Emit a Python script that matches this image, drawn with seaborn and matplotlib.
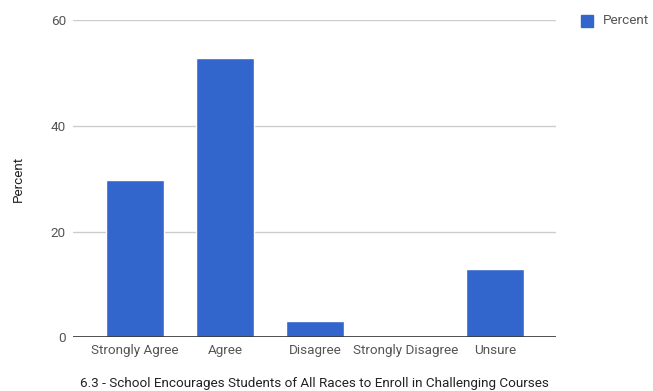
import matplotlib
matplotlib.use("Agg")
import matplotlib.pyplot as plt
import seaborn as sns
import pandas as pd
from matplotlib.patches import Rectangle

categories = ["Strongly Agree", "Agree", "Disagree", "Strongly Disagree", "Unsure"]
percent = [29.8, 52.9, 3.0, 0.0, 12.9]
y_ticks = [0, 20, 40, 60]
series_name = "Percent"
x_title = "6.3 - School Encourages Students of All Races to Enroll in Challenging Courses"

df = pd.DataFrame({"Response": categories, series_name: percent})

sns.set_theme(style="white")
plt.rcParams["font.family"] = ["Roboto", "DejaVu Sans"]

fig = plt.figure(figsize=(6.53, 3.91), dpi=100)
ax = fig.add_axes([0.1118, 0.1373, 0.7389, 0.8115])

bar_color = "#3366CC"
sns.barplot(data=df, x="Response", y=series_name, color=bar_color,
            width=0.64, saturation=1, ax=ax, zorder=3)

ax.set_ylim(0, 60)
ax.set_xlim(-0.69, 4.67)
ax.set_yticks(y_ticks)
ax.yaxis.grid(True, color="#cccccc", linewidth=1, zorder=0)
ax.axhline(0, color="#333333", linewidth=1.2, zorder=4)

for s in ax.spines.values():
    s.set_visible(False)

ax.tick_params(axis="both", length=0, labelsize=9.7, labelcolor="#555555")
ax.tick_params(axis="y", pad=5)
ax.tick_params(axis="x", pad=5)

ax.set_xlabel(x_title, fontsize=9.7, color="#222222", labelpad=14)
ax.set_ylabel(series_name, fontsize=9.7, color="#222222", labelpad=19)

# legend on the right
fig.patches.append(Rectangle((581 / 653, 1 - 27 / 391), 12 / 653, 12 / 391,
                             transform=fig.transFigure, color=bar_color,
                             figure=fig))
fig.text(603 / 653, 1 - 21 / 391, series_name, fontsize=9.7, color="#555555",
         va="center", ha="left")

fig.savefig("out.png", dpi=100)
